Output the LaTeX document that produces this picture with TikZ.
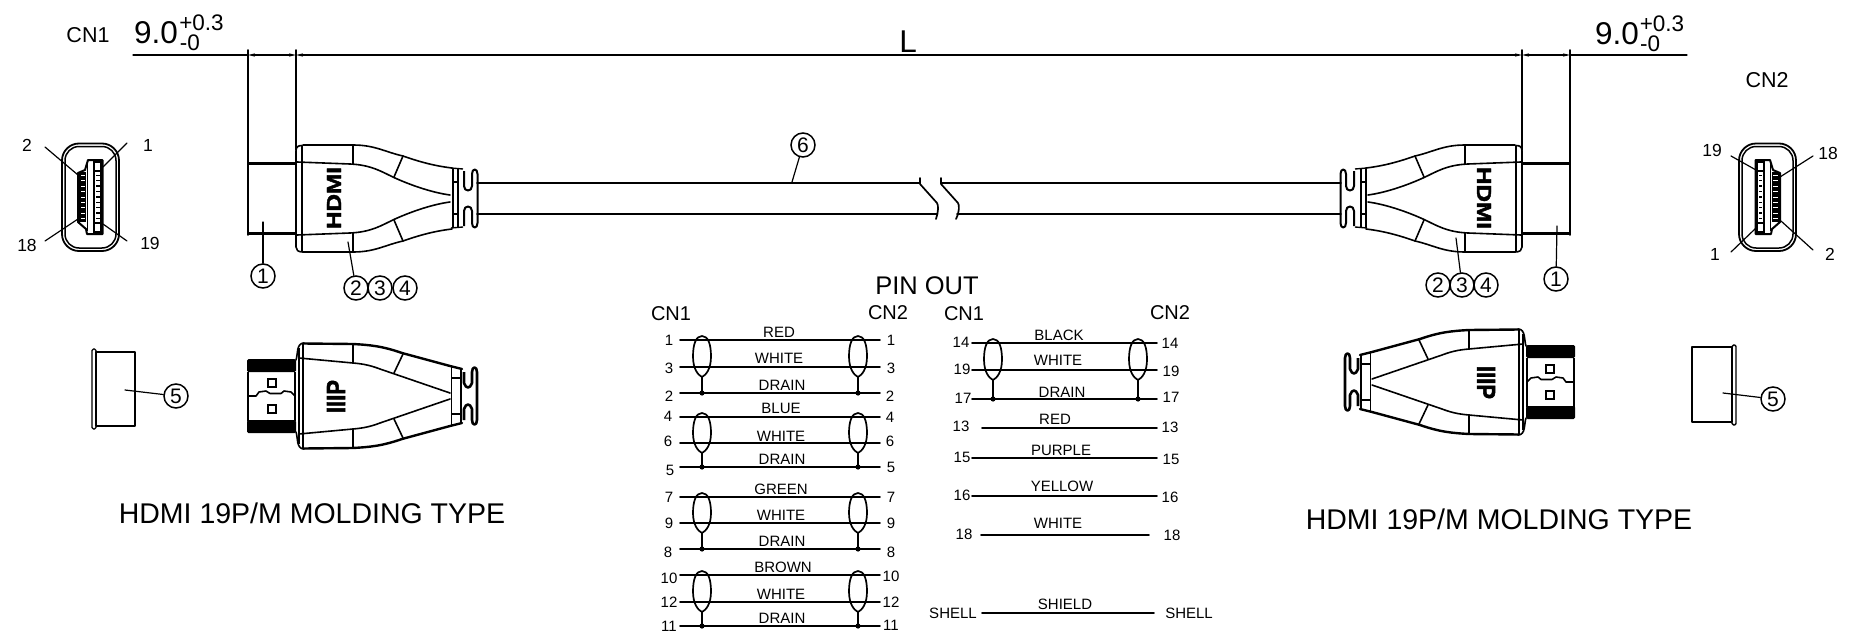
\documentclass[tikz,border=0pt]{standalone}
\usepackage{graphicx}
\usepackage{fontspec}
\setmainfont{Liberation Sans}
\newfontfamily\logofont[BoldFeatures={FakeBold=2}]{Liberation Sans}
\usetikzlibrary{arrows.meta}
\newcommand{\fs}[1]{\fontsize{#1}{#1}\selectfont}
\tikzset{
  base/.style={line width=1.6pt,black,line cap=round,line join=round},
  thin line/.style={line width=1.2pt,black,line cap=round},
  thick line/.style={line width=2.4pt,black,line cap=round,line join=round},
  dimtip/.style={line width=1.3pt,{Stealth[length=7pt,width=3.2pt]}-{Stealth[length=7pt,width=3.2pt]}},
  txt/.style={inner sep=0pt,outer sep=0pt,anchor=center},
  wirelab/.style={txt,font=\fs{15}},
  pinlab/.style={txt,font=\fs{15}},
  facelab/.style={txt,font=\fs{17.5}},
  cnlab/.style={txt,font=\fs{20}},
  circ/.style={circle,draw,line width=1.5pt,minimum size=24pt,inner sep=0pt,font=\fs{21}},
  title/.style={txt,font=\fs{28.5}},
  bigdim/.style={txt,font=\fs{31.5}},
  smalldim/.style={txt,font=\fs{22.5}},
}
% half of the side-view moulding (upper half)
\newcommand{\sidehalf}{%
  \draw[base] (303,145) -- (353,145) .. controls (375,145) and (385,152) .. (403,156) .. controls (420,162) and (435,166) .. (452,168);
  \draw[base] (297,162) -- (350,164) .. controls (372,165) and (382,172) .. (395,178) .. controls (415,187) and (435,193) .. (450,195);
  \draw[base] (353,145) -- (353,164);
  \draw[base] (403,156) -- (394,177);
  \draw[line width=3pt] (248,163.5) -- (296,163.5);
}
\newcommand{\sideplug}[2]{%
  \sidehalf
  \begin{scope}[shift={(0,397)},yscale=-1]\sidehalf\end{scope}
  % strip beside metal
  \draw[base] (302,145.5) .. controls (298,145.5) and (296,147) .. (296,151) -- (296,247) .. controls (296,250) and (298,252) .. (303,252);
  \draw[base] (302,146) -- (302,251);
  % strain relief
  \draw[line width=2pt] (452.5,168) -- (452.5,228);
  \draw[line width=2pt] (457.5,168) -- (457.5,228);
  \draw[line width=1.4pt] (451,168) -- (463,169);
  \draw[line width=1.4pt] (451,228) -- (463,227);
  \draw[line width=1.6pt] (452,182) -- (458,182) (452,214) -- (458,214);
  \draw[line width=2pt,line join=round]
    (464,171) -- (464,186) .. controls (464,192) and (472,192) .. (472,186)
    -- (472,174) .. controls (472,168) and (477.5,168) .. (477.5,174)
    -- (477.5,223) .. controls (477.5,229) and (472,229) .. (472,223)
    -- (472,211) .. controls (472,205) and (464,205) .. (464,211) -- (464,226);
  % logo
  \node[txt,rotate=#1,name=#2] at (334,198) {\resizebox{62pt}{14pt}{\logofont\bfseries HDMI}};
}
% half of the bottom-view plug
\newcommand{\bottomhalf}{%
  \fill[black,rounded corners=1.5pt] (247,372) -- (247,359) -- (296,359) -- (296,372) -- cycle;
  \draw[thick line] (303,343.5) -- (353,344) .. controls (370,345) and (382,346) .. (402,353) -- (450,366) -- (462,369);
  \draw[base] (299,358) -- (353,363) .. controls (365,364) and (372,366) .. (380,369) -- (450,393);
  \draw[base] (353,344) -- (353,363);
  \draw[base] (403,354) -- (394,373);
  \draw[base] (296,360) .. controls (298,355) and (296,343) .. (304,343);
  \draw[line width=2pt] (272,379) ++(-4,0) rectangle ++(8,8);
}
\newcommand{\bottomplug}[2]{%
  \bottomhalf
  \begin{scope}[shift={(0,792)},yscale=-1]\bottomhalf\end{scope}
  \draw[line width=1.6pt] (248,372) -- (248,421);
  \draw[line width=1.6pt] (295,372) -- (295,421);
  \draw[line width=2pt] (299,348) -- (299,444);
  \draw[base] (303,344) -- (303,448);
  % latch profile
  \draw[base] (248,396) -- (256,396) -- (259,392) -- (266,391) -- (270,393.5) -- (281,393.5) -- (284,391) -- (291,392) -- (295,396);
  % relief
  \draw[line width=1.8pt] (451.5,366) -- (451.5,426);
  \draw[line width=1.8pt] (461,368) -- (461,424);
  \draw[line width=1.2pt] (451,378) -- (461,378) (451,414) -- (461,414);
  \draw[line width=2.6pt,line join=round]
    (464,372) -- (464,383) .. controls (466,389) and (470,389) .. (472,383)
    -- (472,372) .. controls (472,366) and (477,366) .. (477,372)
    -- (477,420) .. controls (477,426) and (472,426) .. (472,420)
    -- (472,409) .. controls (470,403) and (466,403) .. (464,409) -- (464,420);
  \node[txt,rotate=#1,name=#2] at (336,396.5) {\resizebox{33pt}{18pt}{\logofont\bfseries IIIP}};
}
% front view of the connector
\newcommand{\face}{%
  \draw[line width=1.8pt,rounded corners=17pt] (62,143.5) rectangle (119,251);
  \draw[line width=1.5pt,rounded corners=14pt] (65,146.5) rectangle (116,248);
  \draw[line width=2pt,line join=round] (85,170) -- (78,173) -- (78,222) -- (86,229) -- (87,234) -- (102.5,234) -- (102.5,160) -- (88,160) -- cycle;
  \fill (79,172) rectangle (86,222);
  \fill (93,160) rectangle (102,172);
  \fill (93,222) rectangle (102,234);
  \fill (93,172) rectangle (95,222);
  \fill (100,172) rectangle (102,222);
  \fill[white] (95,163) rectangle (100,170);
  \fill[white] (95,224) rectangle (100,231);
  \foreach \k in {0,...,8}{
    \fill[white] (80.5,{175+5.4*\k}) rectangle (85,{176+5.4*\k});
    \fill[black] (96,{174.5+5.4*\k}) rectangle (99.5,{176+5.4*\k});
  }
  \draw[line width=1.4pt] (87.5,163) -- (87.5,231);
}
\newcommand{\loopshape}[3]{% x, top, bottom
  \draw[base,line width=1.7pt] (#1,#2) .. controls ({#1+6},#2) and ({#1+9},{#2+8}) .. ({#1+9},{(#2+#3)/2})
     .. controls ({#1+9},{#3-8}) and ({#1+4},{#3-2}) .. (#1,#3)
     .. controls ({#1-4},{#3-2}) and ({#1-9},{#3-8}) .. ({#1-9},{(#2+#3)/2})
     .. controls ({#1-9},{#2+8}) and ({#1-6},#2) .. (#1,#2) -- cycle;
}
\newcommand{\shieldend}[5]{% name, x, y1, y2, y3
  \loopshape{#2}{#3-4}{#4+10}
  \coordinate (#1t) at (#2,#4+10);
  \coordinate (#1b) at (#2,#5);
  \draw[base,line width=1.7pt] (#1t) -- (#1b);
  \fill (#1b) circle (2.6pt);
}
\newcommand{\pairgroup}[8]{% name, xL loop, xR loop, x start, x end, y1,y2,y3
  \shieldend{#1l}{#2}{#6}{#7}{#8}
  \shieldend{#1r}{#3}{#6}{#7}{#8}
  \coordinate (#1a1) at (#4,#6); \coordinate (#1a2) at (#5,#6);
  \coordinate (#1b1) at (#4,#7); \coordinate (#1b2) at (#5,#7);
  \coordinate (#1c1) at (#4,#8); \coordinate (#1c2) at (#5,#8);
  \draw[base] (#1a1) -- (#1a2);
  \draw[base] (#1b1) -- (#1b2);
  \draw[base] (#1c1) -- (#1c2);
}
\begin{document}
\begin{tikzpicture}[x=1pt,y=-1pt]
\useasboundingbox (0,0) rectangle (1850,637);
% ---------- dimensions
\coordinate (dA) at (133,55);
\coordinate (dB) at (248,55);
\coordinate (dC) at (296,55);
\coordinate (dD) at (1522,55);
\coordinate (dE) at (1570,55);
\coordinate (dF) at (1687,55);
\draw[thin line] (dA) -- (dB);
\draw[dimtip] (dB) -- (dC);
\draw[dimtip] (dC) -- (dD);
\draw[dimtip] (dD) -- (dE);
\draw[thin line] (dE) -- (dF);
\coordinate (eB) at (248,50); \coordinate (eBb) at (248,235);
\coordinate (eC) at (296,50); \coordinate (eCb) at (296,150);
\coordinate (eD) at (1522,50); \coordinate (eDb) at (1522,150);
\coordinate (eE) at (1570,50); \coordinate (eEb) at (1570,235);
\draw[base] (eB) -- (eBb);
\draw[base] (eC) -- (eCb);
\draw[base] (eD) -- (eDb);
\draw[base] (eE) -- (eEb);
\node[txt,font=\fs{21.5}] (cnA) at (88,35) {CN1};
\node[bigdim] (dimA) at (156,33) {9.0};
\node[smalldim] (dimAp) at (201.5,23) {+0.3};
\node[smalldim] (dimAm) at (190,43) {-0};
\node[bigdim] (dimL) at (908,42) {L};
\node[bigdim] (dimB) at (1617,34) {9.0};
\node[smalldim] (dimBp) at (1662,24) {+0.3};
\node[smalldim] (dimBm) at (1650,44) {-0};
\node[txt,font=\fs{21.5}] (cnB) at (1767,80) {CN2};
% ---------- side views
\sideplug{90}{logoA}
\begin{scope}[shift={(1818,0)},xscale=-1]
\sideplug{-90}{logoB}
\end{scope}
\draw[line width=3pt] (248,233.5) -- (296,233.5);
\draw[line width=3pt] (1522,233.5) -- (1570,233.5);
% cable
\coordinate (cA1) at (477,183); \coordinate (cA2) at (920,183);
\coordinate (cB1) at (477,214); \coordinate (cB2) at (937,214);
\coordinate (cC1) at (941,183); \coordinate (cC2) at (1341,183);
\coordinate (cD1) at (957,214); \coordinate (cD2) at (1341,214);
\draw[base] (cA1) -- (cA2);
\draw[base] (cB1) -- (cB2);
\draw[base] (cC1) -- (cC2);
\draw[base] (cD1) -- (cD2);
\coordinate (brA) at (920,178); \coordinate (brB) at (936,219);
\coordinate (brC) at (941,178); \coordinate (brD) at (956,219);
\draw[base,line width=1.7pt] (brA) -- (920,184) -- (937,203) .. controls (938.5,205) and (938.5,212) .. (brB);
\draw[base,line width=1.7pt] (brC) -- (941,184) -- (958,203) .. controls (959.5,205) and (959.5,212) .. (brD);
% ---------- balloons
\node[circ] (b6) at (803,145) {6};
\coordinate (l6) at (792,182);
\draw[thin line] (b6) -- (l6);
\node[circ] (b1a) at (263,276) {1};
\coordinate (l1a) at (263,222);
\draw[thin line] (b1a) -- (l1a);
\node[circ] (b2a) at (356,288) {2};
\node[circ] (b3a) at (380,288) {3};
\node[circ] (b4a) at (405,288) {4};
\coordinate (l2a) at (348,242);
\draw[thin line] (b2a) -- (l2a);
\node[circ] (b2b) at (1438,285) {2};
\node[circ] (b3b) at (1462,285) {3};
\node[circ] (b4b) at (1486,285) {4};
\coordinate (l3b) at (1456,238);
\draw[thin line] (b3b) -- (l3b);
\node[circ] (b1b) at (1556,279) {1};
\coordinate (l1b) at (1557,226);
\draw[thin line] (b1b) -- (l1b);
% ---------- faces
\begin{scope}\face\end{scope}
\begin{scope}[shift={(1858,0)},xscale=-1]\face\end{scope}
\node[facelab] (fa2) at (27,145) {2};
\node[facelab] (fa1) at (148,145) {1};
\node[facelab] (fa18) at (27,245) {18};
\node[facelab] (fa19) at (150,243) {19};
\coordinate (fl2a) at (45,147); \coordinate (fl2b) at (78,175);
\coordinate (fl1a) at (127,143); \coordinate (fl1b) at (103,167);
\coordinate (fl18a) at (45,241); \coordinate (fl18b) at (78,219);
\coordinate (fl19a) at (127,241); \coordinate (fl19b) at (103,224);
\draw[thin line] (fl2a) -- (fl2b);
\draw[thin line] (fl1a) -- (fl1b);
\draw[thin line] (fl18a) -- (fl18b);
\draw[thin line] (fl19a) -- (fl19b);
\node[facelab] (fb19) at (1712,150) {19};
\node[facelab] (fb18) at (1828,153) {18};
\node[facelab] (fb1) at (1715,254) {1};
\node[facelab] (fb2) at (1830,254) {2};
\coordinate (gl19a) at (1731,156); \coordinate (gl19b) at (1756,170);
\coordinate (gl18a) at (1813,156); \coordinate (gl18b) at (1780,177);
\coordinate (gl1a) at (1731,252); \coordinate (gl1b) at (1756,228);
\coordinate (gl2a) at (1813,250); \coordinate (gl2b) at (1781,221);
\draw[thin line] (gl19a) -- (gl19b);
\draw[thin line] (gl18a) -- (gl18b);
\draw[thin line] (gl1a) -- (gl1b);
\draw[thin line] (gl2a) -- (gl2b);
% ---------- bottom views
\bottomplug{90}{logoC}
\begin{scope}[shift={(1822,-14)},xscale=-1]
\bottomplug{-90}{logoD}
\end{scope}
% caps
\draw[base] (96,352) rectangle (135,426);
\draw[line width=1.4pt,rounded corners=1.5pt] (92,349) rectangle (96,429);
\node[circ] (b5a) at (176,396) {5};
\coordinate (l5a) at (125,390);
\draw[thin line] (b5a) -- (l5a);
\draw[base] (1692,347) rectangle (1732,422);
\draw[line width=1.4pt,rounded corners=1.5pt] (1732,345) rectangle (1736,425);
\node[circ] (b5b) at (1773,399) {5};
\coordinate (l5b) at (1723,393);
\draw[thin line] (b5b) -- (l5b);
\node[title] (typeA) at (312,513) {HDMI 19P/M MOLDING TYPE};
\node[title] (typeB) at (1499,519) {HDMI 19P/M MOLDING TYPE};
% ---------- pin out
\node[title,font=\fs{25.5}] (pinout) at (927,286) {PIN OUT};
\node[cnlab] (pa) at (671,314) {CN1};
\node[cnlab] (pb) at (888,313) {CN2};
\node[cnlab] (pc) at (964,314) {CN1};
\node[cnlab] (pd) at (1170,313) {CN2};
\pairgroup{g}{702}{858}{680}{880}{340}{367}{393}
\pairgroup{h}{702}{858}{680}{880}{417}{443}{467}
\pairgroup{i}{702}{858}{680}{880}{497}{523}{549}
\pairgroup{j}{702}{858}{680}{880}{575}{602}{626}
\pairgroup{k}{993}{1138}{972}{1157}{343}{370}{399}
\foreach \xa/\xb/\yy [count=\i] in {982/1157/428,972/1157/458,972/1157/496,981/1149/535,982/1154/613}{
  \coordinate (wa\i) at (\xa,\yy);
  \coordinate (wb\i) at (\xb,\yy);
  \draw[base] (wa\i) -- (wb\i);
}
\foreach \t/\x/\y [count=\i] in {RED/779/332,WHITE/779/358,DRAIN/782/385,BLUE/781/408,WHITE/781/436,DRAIN/782/459,GREEN/781/489,WHITE/781/515,DRAIN/782/541,BROWN/783/567,WHITE/781/594,DRAIN/782/618,BLACK/1059/335,WHITE/1058/360,DRAIN/1062/392,RED/1055/419,PURPLE/1061/450,YELLOW/1062/486,WHITE/1058/523,SHIELD/1065/604}{
  \node[wirelab] (wl\i) at (\x,\y) {\t};
}
\foreach \t/\x/\y [count=\i] in {1/669/340,3/669/368,2/669/396,4/668/416,6/668/441,5/670/470,7/669/497,9/669/523,8/668/552,10/669/578,12/669/602,11/669/626,1/891/340,3/891/368,2/890/396,4/890/417,6/890/441,5/891/467,7/891/497,9/891/523,8/891/552,10/891/576,12/891/602,11/891/625,14/961/342,19/962/369,17/963/398,13/961/426,15/962/457,16/962/495,18/964/534,14/1170/343,19/1171/371,17/1171/397,13/1170/427,15/1171/459,16/1170/497,18/1172/535,SHELL/953/613,SHELL/1189/613}{
  \node[pinlab] (pl\i) at (\x,\y) {\t};
}
\end{tikzpicture}
\end{document}
